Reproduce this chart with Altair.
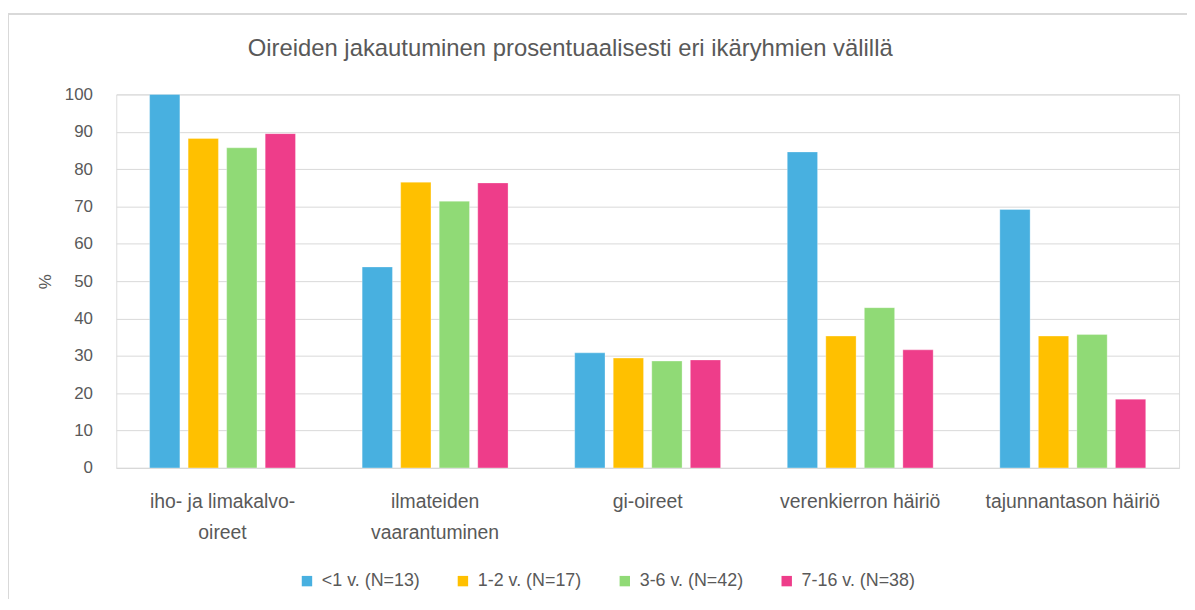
import altair as alt
import pandas as pd

categories = ["iho- ja limakalvo-oireet", "ilmateiden vaarantuminen", "gi-oireet",
              "verenkierron häiriö", "tajunnantason häiriö"]
groups = ["<1 v. (N=13)", "1-2 v. (N=17)", "3-6 v. (N=42)", "7-16 v. (N=38)"]
v_lt1 = [100.0, 53.8, 30.8, 84.6, 69.2]
v_1_2 = [88.2, 76.5, 29.4, 35.3, 35.3]
v_3_6 = [85.7, 71.4, 28.6, 42.9, 35.7]
v_7_16 = [89.5, 76.3, 28.9, 31.6, 18.4]
colors = ["#48B0E0", "#FFC000", "#90DA76", "#EE3D8A"]
y_ticks = [0, 10, 20, 30, 40, 50, 60, 70, 80, 90, 100]

series = [v_lt1, v_1_2, v_3_6, v_7_16]
rows = []
for g, vals in zip(groups, series):
    for c, v in zip(categories, vals):
        rows.append({"oire": c, "ryhma": g, "pct": v})
df = pd.DataFrame(rows)

FONT = "Liberation Sans"
GREY = "#595959"

label_expr = ("datum.label == 'iho- ja limakalvo-oireet' ? ['iho- ja limakalvo-', 'oireet'] : "
              "datum.label == 'ilmateiden vaarantuminen' ? ['ilmateiden', 'vaarantuminen'] : datum.label")

bars = alt.Chart(df).mark_bar(stroke="white", strokeWidth=0.6, strokeOpacity=0.5).encode(
    x=alt.X("oire:N", sort=categories, title=None,
            scale=alt.Scale(paddingInner=0, paddingOuter=0),
            axis=alt.Axis(labelExpr=label_expr, labelAngle=0, labelFont=FONT, labelFontSize=19.5,
                          labelColor=GREY, labelPadding=25, labelLineHeight=31, ticks=False,
                          domain=True, domainColor="#D9D9D9", labelLimit=400, grid=False)),
    xOffset=alt.XOffset("ryhma:N", sort=groups,
                        scale=alt.Scale(paddingInner=0.214, paddingOuter=0.865)),
    y=alt.Y("pct:Q", title="%",
            scale=alt.Scale(domain=[0, 100], nice=False),
            axis=alt.Axis(values=y_ticks, labelFont=FONT, labelFontSize=17, labelColor=GREY,
                          labelPadding=24, ticks=False, domain=False, grid=True,
                          gridColor="#D9D9D9", gridWidth=1, titleFont=FONT, titleFontSize=17,
                          titleFontWeight="normal", titleColor=GREY, titlePadding=10)),
    color=alt.Color("ryhma:N", sort=groups, scale=alt.Scale(domain=groups, range=colors),
                    legend=alt.Legend(title=None, orient="none", direction="horizontal",
                                      legendX=183, legendY=481, columns=4,
                                      symbolType="square", symbolSize=110, symbolStrokeWidth=0,
                                      labelFont=FONT, labelFontSize=18, labelColor=GREY,
                                      labelOffset=6, columnPadding=34, labelLimit=300)),
)

frame = alt.Chart(pd.DataFrame({"a": [0]})).mark_rect(
    fill=None, stroke="#D9D9D9", strokeWidth=2, clip=False
).encode(x=alt.value(-109), x2=alt.value(1085), y=alt.value(-81), y2=alt.value(540))

chart = alt.layer(frame, bars).properties(
    width=1070, height=376,
    title=alt.TitleParams("Oireiden jakautuminen prosentuaalisesti eri ikäryhmien välillä",
                          font=FONT, fontSize=24, fontWeight="normal", color=GREY,
                          anchor="middle", dx=-78, offset=0, dy=48),
    autosize=alt.AutoSizeParams(type="none"),
    padding={"left": 109, "top": 85, "right": 8, "bottom": 130},
).configure_view(stroke=None).configure(background="white")

chart.save("out.html", embed_options={"renderer": "svg", "actions": False})
